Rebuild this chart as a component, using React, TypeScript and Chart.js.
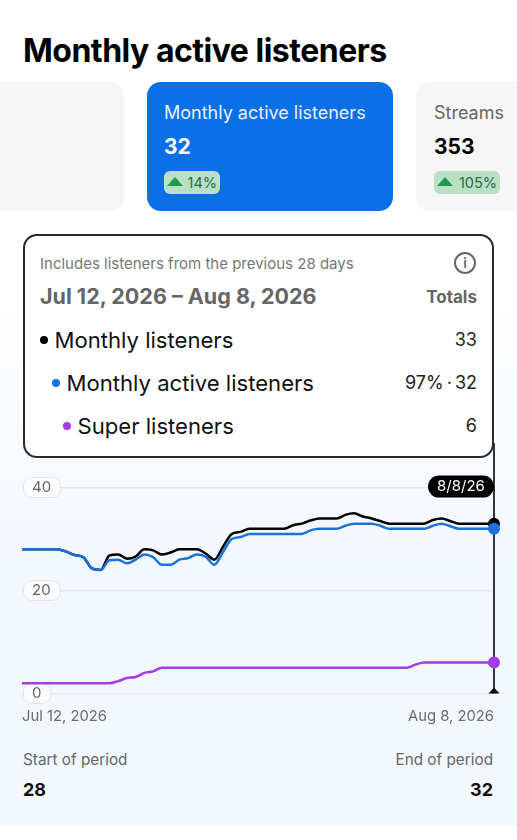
import React, { useEffect, useRef } from "react";
import { Chart, registerables } from "chart.js";

Chart.register(...registerables);

const dateLabels = ["Jul 12, 2026", "Aug 8, 2026"];
const crosshairLabel = "8/8/26";
const yTicks = [0, 20, 40];
const monthlyListeners = [28, 28, 28, 28, 28, 27.6, 26.9, 26.5, 24.3, 24, 26.8, 27, 26.2, 26.6, 28, 27.8, 27, 27.4, 28, 28, 28, 27.2, 26, 28.5, 31, 31.4, 32, 32, 32, 32, 32, 32.7, 33, 33.6, 34, 34, 34, 34.7, 35, 34.4, 34, 33.5, 33, 33, 33, 33, 33, 33.7, 34, 33.5, 33, 33, 33, 33, 33];
const monthlyActive = [28, 28, 28, 28, 28, 27.6, 26.9, 26.5, 24.3, 24, 25.9, 26, 25.3, 26, 27, 26.5, 25, 25, 26, 26.3, 27, 26.6, 25, 27.5, 30, 30.4, 31, 31, 31, 31, 31, 31, 31, 31.7, 32, 32, 32, 32.6, 33, 33, 33, 32.6, 32, 32, 32, 32, 32, 32.6, 33, 32.5, 32, 32, 32, 32, 32];
const superListeners = [2, 2, 2, 2, 2, 2, 2, 2, 2, 2, 2, 2.4, 3, 3.2, 4, 4.3, 5, 5, 5, 5, 5, 5, 5, 5, 5, 5, 5, 5, 5, 5, 5, 5, 5, 5, 5, 5, 5, 5, 5, 5, 5, 5, 5, 5, 5, 5.6, 6, 6, 6, 6, 6, 6, 6, 6, 6];
const FONT = "Inter, sans-serif";
const lastIndex = monthlyActive.length - 1;

const decorations = {
  id: "decorations",
  beforeDatasetsDraw(chart: any) {
    const { ctx, scales } = chart;
    ctx.save();
    ctx.font = `15px ${FONT}`;
    yTicks.forEach((t) => {
      const y = scales.y.getPixelForValue(t);
      const w = ctx.measureText(String(t)).width + 18;
      ctx.beginPath();
      ctx.roundRect(23.5, y - 10, w, 20, 8);
      ctx.fillStyle = "#fbfcfe";
      ctx.fill();
      ctx.strokeStyle = "#e3e4e6";
      ctx.lineWidth = 1;
      ctx.stroke();
    });
    const x = scales.x.getPixelForValue(lastIndex);
    const { top, bottom } = chart.chartArea;
    ctx.beginPath();
    ctx.moveTo(x, top - 6);
    ctx.lineTo(x, bottom);
    ctx.strokeStyle = "#33363b";
    ctx.lineWidth = 2;
    ctx.stroke();
    ctx.beginPath();
    ctx.moveTo(x - 5.5, bottom);
    ctx.lineTo(x + 5.5, bottom);
    ctx.lineTo(x, bottom - 6);
    ctx.closePath();
    ctx.fillStyle = "#000";
    ctx.fill();
    const ly = scales.y.getPixelForValue(40) - 1;
    ctx.beginPath();
    ctx.roundRect(x - 66, ly - 11, 66, 22, 11);
    ctx.fillStyle = "#000";
    ctx.fill();
    ctx.fillStyle = "#fff";
    ctx.textAlign = "center";
    ctx.textBaseline = "middle";
    ctx.fillText(crosshairLabel, x - 33, ly);
    ctx.restore();
  },
};

function lineSet(label: string, values: number[], color: string, r: number, order: number) {
  return {
    label,
    order,
    clip: false,
    data: values.map((y, i) => ({ x: i, y })),
    borderColor: color,
    backgroundColor: color,
    borderWidth: 2.5,
    cubicInterpolationMode: "monotone" as const,
    pointRadius: values.map((_, i) => (i === lastIndex ? r : 0)),
    pointBorderWidth: 0,
  };
}

function Row({ top, left, dot, label, value }: any) {
  return (
    <>
      <div style={{ position: "absolute", top: top - 4, left, width: 8, height: 8, borderRadius: 4, background: dot }} />
      <div style={{ position: "absolute", top: top - 15, left: left + 14.5, fontSize: 22.1, lineHeight: "30px", color: "#111", whiteSpace: "nowrap" }}>{label}</div>
      <div style={{ position: "absolute", top: top - 15, right: 40, fontSize: 18, lineHeight: "30px", color: "#222", whiteSpace: "nowrap", wordSpacing: -2 }}>{value}</div>
    </>
  );
}

function Badge({ left, top, width, text }: any) {
  return (
    <div style={{ position: "absolute", left, top, width, height: 23, borderRadius: 6, background: "#b9e0c4" }}>
      <div style={{ position: "absolute", left: 3, top: 6, width: 0, height: 0, borderLeft: "8.5px solid transparent", borderRight: "8.5px solid transparent", borderBottom: "9px solid #1c9a4a" }} />
      <div style={{ position: "absolute", right: 3, top: 0, lineHeight: "23px", fontSize: 14.5, color: "#2a6b45" }}>{text}</div>
    </div>
  );
}

export default function App() {
  const ref = useRef<HTMLCanvasElement>(null);
  useEffect(() => {
    const chart = new Chart(ref.current!, {
      type: "line",
      data: {
        datasets: [
          lineSet("Monthly listeners", monthlyListeners, "#000000", 6, 3),
          lineSet("Monthly active listeners", monthlyActive, "#1a73dc", 6, 2),
          lineSet("Super listeners", superListeners, "#a43be8", 6, 1),
        ],
      },
      options: {
        animation: false,
        responsive: false,
        layout: { padding: { left: 22, right: 23, top: 13, bottom: 0 } },
        plugins: { legend: { display: false }, tooltip: { enabled: false } },
        scales: {
          x: {
            type: "linear",
            min: 0,
            max: lastIndex,
            grid: { display: false },
            border: { display: false },
            afterFit: (s: any) => {
              s.height = 38.5;
            },
            afterBuildTicks: (s: any) => {
              s.ticks = [{ value: 0 }, { value: lastIndex }];
            },
            ticks: {
              align: "inner",
              maxRotation: 0,
              padding: 6,
              color: "#6b6b6b",
              font: { family: FONT, size: 14.8 },
              callback: (v: any) => (v === 0 ? dateLabels[0] : dateLabels[1]),
            },
          },
          y: {
            min: 0,
            max: 47.5,
            afterFit: (s: any) => {
              s.width = 0;
            },
            afterBuildTicks: (s: any) => {
              s.ticks = yTicks.map((value) => ({ value }));
            },
            border: { display: false },
            grid: { color: "#e5e7ea", lineWidth: 1.5, drawTicks: false },
            ticks: {
              mirror: true,
              z: 1,
              padding: 10,
              color: "#666",
              font: { family: FONT, size: 15 },
            },
          },
        },
      },
      plugins: [decorations],
    } as any);
    return () => chart.destroy();
  }, []);

  const abs = (o: any) => ({ position: "absolute", ...o });
  return (
    <div style={{ position: "absolute", left: 0, top: 0, width: 517, height: 840, overflow: "hidden", background: "linear-gradient(#ffffff 0, #ffffff 300px, #f3f7fe 560px, #f3f7fe 825px, #ffffff 826px)", fontFamily: FONT }}>
      <div style={abs({ left: 23, top: 30, fontSize: 32, lineHeight: "42px", fontWeight: 700, color: "#000", letterSpacing: -0.5, whiteSpace: "nowrap" })}>Monthly active listeners</div>

      <div style={abs({ left: -20, top: 82, width: 144, height: 129, borderRadius: 14, background: "#f6f6f6" })} />
      <div style={abs({ left: 147, top: 82, width: 246, height: 129, borderRadius: 14, background: "#0b6fe6" })} />
      <div style={abs({ left: 416, top: 82, width: 140, height: 129, borderRadius: 14, background: "#f6f6f6" })} />
      <div style={abs({ left: 164, top: 100, fontSize: 18, lineHeight: "26px", color: "#e8f1fd", whiteSpace: "nowrap" })}>Monthly active listeners</div>
      <div style={abs({ left: 164, top: 133, fontSize: 21, lineHeight: "28px", fontWeight: 700, color: "#fff" })}>32</div>
      <Badge left={164} top={171} width={56} text="14%" />
      <div style={abs({ left: 434, top: 100, fontSize: 18, lineHeight: "26px", color: "#666" })}>Streams</div>
      <div style={abs({ left: 434, top: 133, fontSize: 21, lineHeight: "28px", fontWeight: 700, color: "#000" })}>353</div>
      <Badge left={434} top={171} width={66} text="105%" />

      <canvas ref={ref} width={517} height={302} style={{ position: "absolute", left: 0, top: 430, width: 517, height: 302 }} />

      <div style={abs({ left: 23, top: 234, width: 471, height: 224, boxSizing: "border-box", border: "2px solid #2a2a2a", borderRadius: 14, background: "#fff" })} />
      <div style={abs({ left: 40, top: 254, fontSize: 15, lineHeight: "20px", color: "#777", whiteSpace: "nowrap" })}>Includes listeners from the previous 28 days</div>
      <div style={abs({ left: 40, top: 281, fontSize: 21.5, lineHeight: "30px", fontWeight: 700, color: "#666", whiteSpace: "nowrap" })}>Jul 12, 2026 – Aug 8, 2026</div>
      <div style={abs({ right: 40, top: 286, fontSize: 17, lineHeight: "22px", fontWeight: 700, color: "#666" })}>Totals</div>
      <div style={abs({ left: 454, top: 252, width: 22, height: 22, boxSizing: "border-box", border: "2px solid #666", borderRadius: 11, color: "#666", fontSize: 14, lineHeight: "18px", textAlign: "center", fontWeight: 600 })}>i</div>
      <Row top={340} left={40} dot="#000" label="Monthly listeners" value="33" />
      <Row top={383} left={52} dot="#1a73dc" label="Monthly active listeners" value="97% · 32" />
      <Row top={426} left={63} dot="#a43be8" label="Super listeners" value="6" />

      <div style={abs({ left: 23, top: 750, fontSize: 15.3, lineHeight: "20px", color: "#666" })}>Start of period</div>
      <div style={abs({ left: 23, top: 779, fontSize: 18, lineHeight: "22px", fontWeight: 700, color: "#111" })}>28</div>
      <div style={abs({ right: 24, top: 750, fontSize: 15.3, lineHeight: "20px", color: "#666" })}>End of period</div>
      <div style={abs({ right: 24, top: 779, fontSize: 18, lineHeight: "22px", fontWeight: 700, color: "#111" })}>32</div>
    </div>
  );
}
